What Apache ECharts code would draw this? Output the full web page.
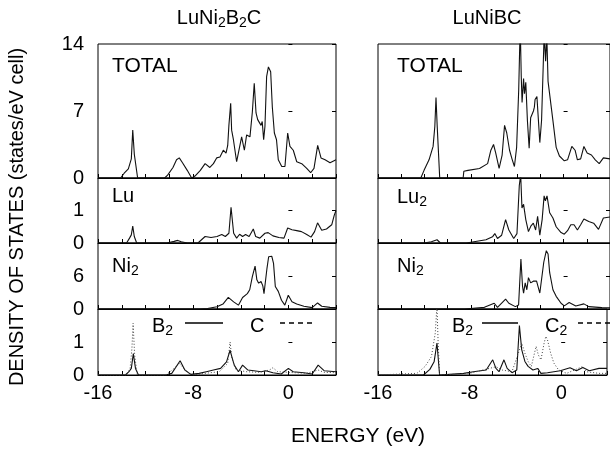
<!DOCTYPE html>
<html>
<head>
<meta charset="utf-8" />
<title>LuNi2B2C / LuNiBC density of states</title>
<script src="https://cdn.jsdelivr.net/npm/echarts@6/dist/echarts.min.js"></script>
</head>
<body style="margin:0;background:#fff">
<div id="main" style="width:610px;height:450px;"></div>
<script type="text/javascript">
// values: [energy (eV), DOS]
// --- LuNi2B2C ---
var totalA = [[-16,0],[-14.1,0],[-13.8,0.5],[-13.45,0.96],[-13.2,2.0],[-13.08,5.0],[-12.95,2.5],[-12.67,0],[-10.4,0],[-10.15,0.3],[-9.7,1.1],[-9.4,1.9],[-9.17,2.1],[-8.9,1.6],[-8.5,0.8],[-8.13,0],[-7.85,0.2],[-7.4,0.8],[-7.0,1.5],[-6.6,1.1],[-6.3,1.5],[-6.03,2.1],[-5.75,2.2],[-5.47,2.9],[-5.24,2.6],[-5.1,3.4],[-5.0,5.5],[-4.85,7.8],[-4.77,5.0],[-4.62,4.0],[-4.35,1.7],[-3.93,4.3],[-3.7,2.9],[-3.51,4.5],[-3.23,4.3],[-3.03,6.9],[-2.87,9.9],[-2.72,6.8],[-2.58,6.1],[-2.44,5.9],[-2.3,5.5],[-2.2,5.9],[-2.08,4.0],[-1.97,5.4],[-1.83,10.6],[-1.68,11.6],[-1.49,11.1],[-1.35,7.4],[-1.18,4.7],[-1.0,4.0],[-0.85,1.9],[-0.56,1.2],[-0.29,1.2],[-0.06,4.7],[0.13,3.3],[0.41,2.9],[0.7,1.7],[1.12,1.5],[1.54,1.0],[1.87,0.55],[2.15,1.0],[2.46,3.4],[2.74,2.1],[3.08,1.9],[3.5,1.6],[4.0,1.9]];
var luA = [[-16,0],[-13.6,0],[-13.35,0.15],[-13.2,0.25],[-13.08,0.52],[-12.95,0.2],[-12.75,0],[-10.2,0],[-9.6,0.05],[-9.3,0.08],[-9.0,0.04],[-8.5,0],[-7.6,0],[-7.3,0.1],[-7.0,0.2],[-6.5,0.17],[-6.0,0.2],[-5.6,0.26],[-5.3,0.2],[-5.0,0.3],[-4.82,1.1],[-4.6,0.3],[-4.35,0.15],[-4.1,0.27],[-3.85,0.2],[-3.6,0.26],[-3.3,0.2],[-2.95,0.43],[-2.75,0.2],[-2.4,0.15],[-1.97,0.3],[-1.7,0.32],[-1.3,0.22],[-0.8,0.17],[-0.37,0.15],[-0.06,0.46],[0.3,0.41],[0.7,0.38],[1.1,0.35],[1.54,0.26],[1.9,0.18],[2.2,0.35],[2.45,0.62],[2.8,0.39],[3.2,0.43],[3.64,0.56],[3.85,0.85],[4.0,1.0]];
var niA = [[-16,0],[-7.4,0],[-6.8,0.1],[-6.0,0.4],[-5.5,0.9],[-5.05,2.1],[-4.9,1.8],[-4.6,1.3],[-4.2,0.7],[-3.85,2.1],[-3.7,1.9],[-3.45,2.8],[-3.25,3.5],[-3.03,5.9],[-2.8,7.8],[-2.65,5.3],[-2.5,4.7],[-2.3,5.0],[-2.15,4.2],[-2.05,2.8],[-1.8,7.4],[-1.66,9.5],[-1.4,9.6],[-1.25,8.3],[-1.1,4.1],[-0.85,3.2],[-0.58,1.6],[-0.3,0.7],[-0.01,2.5],[0.3,1.3],[0.7,0.9],[1.3,0.5],[2.0,0.25],[2.45,1.1],[2.8,0.5],[3.5,0.3],[4.0,0.25]];
var bA = [[-16,0],[-13.7,0],[-13.4,0.1],[-13.2,0.2],[-13.03,0.65],[-12.85,0.2],[-12.6,0],[-10.3,0],[-9.8,0.05],[-9.1,0.43],[-8.7,0.15],[-8.2,0.02],[-7.5,0.05],[-6.9,0.1],[-6.3,0.15],[-5.7,0.2],[-5.2,0.4],[-4.9,0.75],[-4.75,0.55],[-4.55,0.3],[-4.2,0.1],[-3.85,0.3],[-3.4,0.15],[-2.9,0.13],[-2.3,0.1],[-1.9,0.13],[-1.3,0.07],[-0.6,0.03],[0,0.2],[0.4,0.1],[1.3,0.07],[2.0,0.03],[2.5,0.3],[3.0,0.13],[4.0,0.1]];
var cA = [[-16,0],[-13.6,0],[-13.3,0.2],[-13.15,0.8],[-13.05,1.57],[-12.92,0.6],[-12.7,0],[-10.3,0],[-9.6,0.2],[-9.15,0.35],[-8.6,0.12],[-8.1,0],[-7.0,0.05],[-5.8,0.1],[-5.1,0.35],[-4.9,1.0],[-4.75,0.5],[-4.4,0.15],[-3.5,0.1],[-2.5,0.08],[-1.6,0.15],[-1.3,0.22],[-0.9,0.1],[0,0.08],[1.5,0.05],[2.5,0.15],[3.0,0.08],[4.0,0.07]];
// --- LuNiBC ---
var totalB = [[-16,0],[-12.31,0],[-12.03,0.8],[-11.6,1.9],[-11.25,3.3],[-11.1,5.4],[-11.0,8.4],[-10.9,5.5],[-10.68,0],[-8.66,0],[-8.6,0.7],[-8.24,0.8],[-7.25,1.0],[-6.55,1.5],[-6.27,2.9],[-6.04,3.5],[-5.85,2.6],[-5.56,1.0],[-5.3,2.4],[-5.09,5.5],[-4.9,4.7],[-4.66,2.9],[-4.45,2.0],[-4.24,1.2],[-4.05,3.2],[-3.87,9.2],[-3.74,16],[-3.65,10.6],[-3.58,7.9],[-3.45,10.4],[-3.37,8.8],[-3.26,10.0],[-3.12,6.0],[-2.97,3.1],[-2.84,6.3],[-2.6,7.0],[-2.52,7.4],[-2.46,8.2],[-2.3,8.5],[-2.05,3.7],[-1.9,6.0],[-1.76,11.6],[-1.68,15],[-1.55,12.2],[-1.45,15],[-1.34,10.1],[-0.92,6.0],[-0.64,3.2],[-0.36,2.3],[0.06,1.8],[0.34,1.9],[0.71,3.3],[0.99,2.9],[1.19,1.9],[1.47,2.0],[1.75,3.3],[2.03,2.6],[2.4,2.4],[2.73,1.9],[3.07,1.5],[3.43,2.1],[4.0,2.0]];
var lu2B = [[-16,0],[-12.03,0],[-11.4,0.04],[-10.91,0.1],[-10.62,0],[-8.38,0],[-6.69,0.1],[-6.13,0.19],[-5.93,0.29],[-5.7,0.14],[-5.34,0.24],[-5.0,0.72],[-4.72,0.4],[-4.3,0.14],[-4.02,0.29],[-3.82,1.77],[-3.7,2.1],[-3.59,1.08],[-3.45,1.19],[-3.26,0.72],[-3.03,0.35],[-2.81,0.53],[-2.61,0.61],[-2.41,0.4],[-2.24,0.82],[-2.05,0.24],[-1.85,0.72],[-1.68,1.45],[-1.57,1.3],[-1.43,1.45],[-1.2,0.93],[-0.92,0.77],[-0.64,0.5],[-0.22,0.32],[0.06,0.27],[0.34,0.38],[0.62,0.56],[0.9,0.56],[1.19,0.4],[1.47,0.56],[1.75,0.74],[2.17,0.66],[2.59,0.61],[3.01,0.42],[3.43,0.77],[4.0,0.8]];
var niB = [[-16,0],[-8.52,0],[-6.83,0.3],[-5.98,1.05],[-5.7,0.3],[-5.0,1.8],[-4.72,1.05],[-4.16,0.43],[-3.88,0.74],[-3.68,9.1],[-3.54,4.1],[-3.45,2.9],[-3.31,4.75],[-3.17,3.5],[-3.03,5.7],[-2.84,4.75],[-2.61,5.06],[-2.33,5.06],[-2.19,5.25],[-2.05,2.9],[-1.91,2.6],[-1.71,8.5],[-1.49,10.6],[-1.34,10.0],[-1.2,6.6],[-0.92,3.5],[-0.64,2.3],[-0.22,1.05],[0.06,0.56],[0.48,1.17],[1.05,0.56],[1.75,0.93],[2.17,0.43],[3.3,0.25],[4.0,0.2]];
var bB = [[-16,0],[-12.03,0],[-11.47,0.17],[-11.1,0.4],[-10.85,0.97],[-10.62,0],[-8.52,0.05],[-7.67,0.1],[-6.55,0.15],[-5.98,0.46],[-5.7,0.2],[-5.43,0.1],[-5.0,0.46],[-4.72,0.2],[-4.3,0.07],[-3.88,0.15],[-3.65,1.5],[-3.45,0.77],[-3.17,0.41],[-2.89,0.26],[-2.47,0.15],[-2.05,0.2],[-1.77,0.05],[-1.2,0.07],[-0.64,0.1],[-0.08,0.13],[0.77,0.22],[1.33,0.13],[1.89,0.23],[2.45,0.13],[3.3,0.2],[4.0,0.2]];
var c2B = [[-16,0],[-12.6,0.05],[-11.89,0.26],[-11.33,0.56],[-11.0,1.27],[-10.85,2.1],[-10.75,1.0],[-10.62,0],[-8.0,0.05],[-6.27,0.2],[-5.7,0.25],[-5.14,0.15],[-4.3,0.1],[-3.74,0.66],[-3.45,0.97],[-3.17,0.66],[-2.89,0.41],[-2.61,0.26],[-2.19,0.87],[-2.0,0.61],[-1.77,0.46],[-1.49,0.97],[-1.34,1.17],[-1.2,1.07],[-0.92,0.66],[-0.64,0.36],[-0.22,0.15],[0.48,0.05],[1.89,0.26],[2.17,0.1],[3.3,0.05],[4.0,0.05]];

// axis ranges per row: TOTAL, Lu, Ni, B/C
var yMax = [14, 2, 12, 2];
var yStep = [7, 1, 6, 1];
var xTicks = [-16, -8, 0];

var FONT = '"Liberation Sans", Arial, Helvetica, sans-serif';
var colLeft = [98, 378], colWidth = [238, 237];
var rowTop = [44, 178, 243, 309], rowH = [134, 65, 66, 66];

var panelSeries = [
    [[totalA, 'solid']], [[luA, 'solid']], [[niA, 'solid']], [[bA, 'solid'], [cA, 'dotted']],
    [[totalB, 'solid']], [[lu2B, 'solid']], [[niB, 'solid']], [[bB, 'solid'], [c2B, 'dotted']]
];

var grids = [], xAxes = [], yAxes = [], series = [];
for (var i = 0; i < 8; i++) {
    var col = Math.floor(i / 4), row = i % 4;
    grids.push({
        left: colLeft[col], top: rowTop[row], width: colWidth[col], height: rowH[row],
        show: true, borderColor: '#000', borderWidth: 1, backgroundColor: 'transparent'
    });
    xAxes.push({
        type: 'value', gridIndex: i, min: -16, max: 4, interval: 2,
        axisLine: {show: true, lineStyle: {color: '#000', width: 1}},
        axisTick: {inside: true, length: 4, lineStyle: {color: '#000'}},
        splitLine: {show: false},
        axisLabel: {
            show: row === 3, color: '#000', fontSize: 20, fontFamily: FONT, margin: 8,
            formatter: function (v) { return xTicks.indexOf(v) >= 0 ? String(v) : ''; }
        }
    });
}
for (var j = 0; j < 16; j++) {
    var g = j % 8, r = g % 4, side = j < 8 ? 'left' : 'right';
    var showLab = side === 'left' && g < 4;
    yAxes.push({
        type: 'value', gridIndex: g, position: side, min: 0, max: yMax[r], interval: yStep[r],
        axisLine: {show: false},
        axisTick: {inside: true, length: 4, lineStyle: {color: '#000'}},
        splitLine: {show: false},
        axisLabel: {
            show: showLab, color: '#000', fontSize: 20, fontFamily: FONT, margin: 14,
            formatter: (function (rr) {
                return function (v) { return (rr === 0 || v < yMax[rr]) ? String(v) : ''; };
            })(r)
        }
    });
}
for (var k = 0; k < 8; k++) {
    panelSeries[k].forEach(function (s) {
        series.push({
            type: 'line', xAxisIndex: k, yAxisIndex: k, data: s[0],
            showSymbol: false, silent: true, clip: true,
            lineStyle: s[1] === 'dotted'
                ? {color: '#444', width: 1, type: [1, 2]}
                : {color: '#111', width: 1.1}
        });
    });
}

function label(x, y, parts, size) {
    var txt = '', rich = {
        m: {fontSize: size, fontFamily: FONT, fill: '#000'},
        s: {fontSize: Math.round(size * 0.72), fontFamily: FONT, fill: '#000', padding: [10, 0, 0, 0]}
    };
    parts.forEach(function (p, n) { txt += '{' + (n % 2 ? 's' : 'm') + '|' + p + '}'; });
    return {type: 'text', x: x, y: y, style: {text: txt, rich: rich, align: 'left', verticalAlign: 'middle'}};
}
function centered(el) { el.style.align = 'center'; return el; }

var graphics = [
    centered(label(219, 18, ['LuNi', '2', 'B', '2', 'C'], 20)),
    centered(label(487, 18, ['LuNiBC'], 20)),
    label(112, 66, ['TOTAL'], 21),
    label(112, 196, ['Lu'], 20),
    label(112, 266, ['Ni', '2'], 20),
    label(152, 326, ['B', '2'], 20),
    label(250, 326, ['C'], 20),
    label(397, 66, ['TOTAL'], 21),
    label(397, 197, ['Lu', '2'], 20),
    label(397, 266, ['Ni', '2'], 20),
    label(452, 326, ['B', '2'], 20),
    label(545, 326, ['C', '2'], 20),
    {type: 'line', shape: {x1: 185, y1: 323, x2: 223, y2: 323}, style: {stroke: '#000', lineWidth: 1.3}},
    {type: 'line', shape: {x1: 280, y1: 323, x2: 313, y2: 323}, style: {stroke: '#000', lineWidth: 1.3, lineDash: [5, 4]}},
    {type: 'line', shape: {x1: 482, y1: 323, x2: 518, y2: 323}, style: {stroke: '#000', lineWidth: 1.3}},
    {type: 'line', shape: {x1: 578, y1: 323, x2: 612, y2: 323}, style: {stroke: '#000', lineWidth: 1.3, lineDash: [5, 4]}},
    {type: 'text', x: 358, y: 436, style: {text: 'ENERGY (eV)', fontSize: 21, fontFamily: FONT, fill: '#000', align: 'center', verticalAlign: 'middle'}},
    {type: 'text', x: 17, y: 217, rotation: Math.PI / 2,
        style: {text: 'DENSITY OF STATES (states/eV cell)', fontSize: 20, fontFamily: FONT, fill: '#000', align: 'center', verticalAlign: 'middle'}}
];

var chart = echarts.init(document.getElementById('main'));
chart.setOption({
    animation: false,
    backgroundColor: '#fff',
    grid: grids,
    xAxis: xAxes,
    yAxis: yAxes,
    series: series,
    graphic: graphics
});
</script>
</body>
</html>
